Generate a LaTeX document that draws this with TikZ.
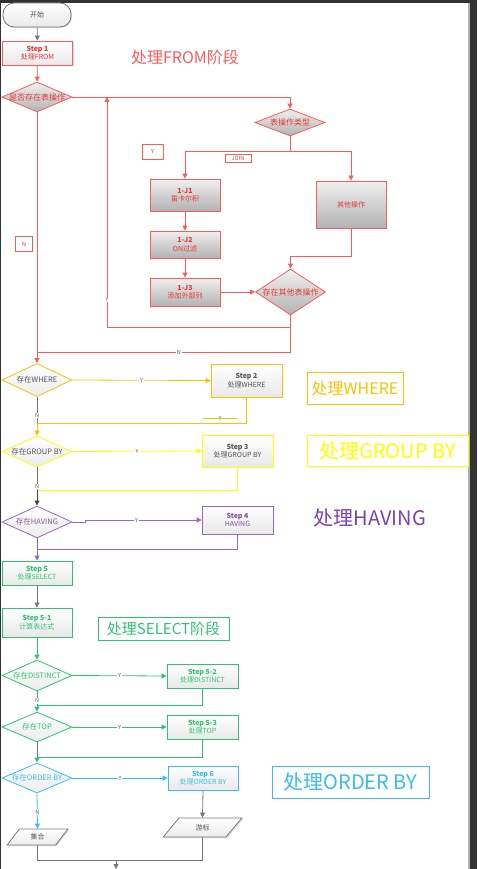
\documentclass[tikz,border=0pt]{standalone}
\usepackage{fontspec}
\setmainfont{Noto Sans CJK SC}
\usetikzlibrary{shapes.geometric,arrows.meta,shadows}

\definecolor{fromred}{HTML}{FF5A5A}
\definecolor{redtext}{HTML}{E53935}
\definecolor{whereorg}{HTML}{FFC000}
\definecolor{groupyel}{HTML}{FFFF00}
\definecolor{havpurp}{HTML}{8040B0}
\definecolor{selgreen}{HTML}{2EC46E}
\definecolor{ordcyan}{HTML}{38BDF0}
\definecolor{linegray}{HTML}{777777}
\definecolor{textgray}{HTML}{555555}

\newcommand{\stp}[1]{{\bfseries #1}}
\newcommand{\dz}[1]{\makebox[0pt]{#1}}

\tikzset{
  tip/.style={-{Triangle[length=5pt,width=5pt]}},
  shade/.style={drop shadow={shadow xshift=1.2pt, shadow yshift=-1.2pt, opacity=0.25}},
  stepbox/.style={rectangle, draw, line width=0.8pt, align=center, inner sep=1pt,
    top color=white, bottom color=gray!18, text=textgray, shade},
  redbox/.style={stepbox, draw=fromred, text=redtext, top color=gray!12, bottom color=gray!60},
  decide/.style={diamond, draw, line width=0.8pt, align=center, inner sep=0pt, aspect=2.2,
    minimum width=70, minimum height=31, top color=white, bottom color=gray!15, text=textgray,
    font=\fontsize{7.5}{9}\selectfont},
  reddecide/.style={decide, draw=fromred, text=redtext, top color=gray!12, bottom color=gray!60,
    font=\fontsize{8}{9}\selectfont},
  io/.style={trapezium, trapezium left angle=62, trapezium right angle=118, trapezium stretches=true,
    draw=linegray, line width=0.8pt, top color=white, bottom color=gray!15, text=textgray, shade},
  tagbox/.style={rectangle, draw=fromred, line width=0.8pt, fill=white, text=redtext, inner sep=1pt,
    font=\fontsize{5.5}{6}\selectfont},
  bigtag/.style={rectangle, line width=0.8pt, inner sep=2pt},
  lbl/.style={fill=white, inner sep=0.6pt, text=textgray, font=\fontsize{5.5}{6}\selectfont},
  rline/.style={draw=fromred, line width=0.8pt},
  oline/.style={draw=whereorg, line width=0.8pt},
  yline/.style={draw=groupyel, line width=0.8pt},
  pline/.style={draw=havpurp!80, line width=0.8pt},
  gnline/.style={draw=selgreen, line width=0.8pt},
  cline/.style={draw=ordcyan, line width=0.8pt},
  gline/.style={draw=linegray, line width=0.8pt}
}

\begin{document}
\begin{tikzpicture}[x=1pt, y=-1pt, font=\fontsize{7}{8.5}\selectfont]
\useasboundingbox (0,0) rectangle (477,869);

% window frame
\fill[black!80] (0,0) rectangle (477,3);
\fill[black!80] (0,0) rectangle (1.2,869);
\fill[gray!60] (467.5,3) rectangle (470,869);
\fill[black!80] (470,0) rectangle (477,869);

% --- FROM ---
\node[stepbox, draw=linegray, rounded corners=11, minimum width=68, minimum height=24] (start) at (37,15) {开始};
\node[stepbox, draw=fromred, text=redtext, minimum width=70, minimum height=24] (s1) at (37.5,53) {\stp{Step 1}\\处理FROM};
\node[text=fromred, font=\fontsize{16}{18}\selectfont] (labFrom) at (185,57) {处理FROM阶段};

\node[reddecide, minimum height=30] (dA) at (37,97) {\dz{是否存在表操作}};
\node[reddecide, minimum height=27] (dType) at (290,122.5) {\dz{表操作类型}};
\node[tagbox, minimum width=21, minimum height=15] (yBox) at (152.5,151.5) {Y};
\node[tagbox, minimum width=26, minimum height=8] (joinBox) at (238,158) {JOIN};
\node[tagbox, minimum width=17, minimum height=15] (nBox) at (24,244) {N};

\node[redbox, minimum width=70, minimum height=32] (j1) at (185,195) {\stp{1-J1}\\笛卡尔积};
\node[redbox, minimum width=70, minimum height=47] (other) at (351,204.5) {其他操作};
\node[redbox, minimum width=70, minimum height=27] (j2) at (185,244.5) {\stp{1-J2}\\ON过滤};
\node[redbox, minimum width=70, minimum height=28] (j3) at (185,292) {\stp{1-J3}\\添加外部列};
\node[reddecide, minimum height=46] (dMore) at (290.5,292) {\dz{存在其他表操作}};

\coordinate (loopY) at (107,327);
\coordinate (jN) at (37,352);

\draw[gline, tip] (start) -- (s1);
\draw[rline, tip] (s1) -- (dA);
\draw[rline, tip] (dA.east) -| (dType.north);
\draw[rline, tip] (dType.south) -- ++(0,15) -| (j1.north);
\draw[rline, tip] (dType.south) -- ++(0,15) -| (other.north);
\draw[rline, tip] (j1) -- (j2);
\draw[rline, tip] (j2) -- (j3);
\draw[rline, tip] (j3) -- (dMore);
\draw[rline, tip] (other.south) -- ++(0,28) -| (dMore.north);
\draw[rline, tip] (dMore.south) |- (loopY) -- (loopY |- dA.east) node[lbl, pos=0.12] {Y};
\draw[rline] (dMore.south) |- (jN) node[lbl, pos=0.72] {N};

% --- WHERE ---
\node[decide, draw=whereorg, minimum height=33] (dWhere) at (37,380) {\dz{存在WHERE}};
\node[stepbox, draw=whereorg, minimum width=71, minimum height=33] (s2) at (246.5,380.5) {\stp{Step 2}\\处理WHERE};
\node[bigtag, draw=whereorg, text=whereorg, minimum width=96, minimum height=32,
  font=\fontsize{16}{18}\selectfont] (labWhere) at (355,388) {处理WHERE};
\node[lbl, inner sep=0pt] (yW) at (220,418.5) {Y};
\coordinate (jW) at (37,423);

\draw[rline, tip] (dA.south) -- (dWhere.north);
\draw[oline, tip] (dWhere.east) -- (s2.west) node[lbl, midway] {Y};
\draw[oline] (s2.south) |- (jW);
\draw[oline] ([xshift=-17]yW.center) -- ([xshift=17]yW.center);
\draw[gline] (dWhere.south) -- (jW) node[lbl, pos=0.7] {N};

% --- GROUP BY ---
\node[decide, draw=groupyel] (dGroup) at (37,451.5) {\dz{存在GROUP BY}};
\node[stepbox, draw=groupyel, minimum width=71, minimum height=32] (s3) at (237.5,451) {\stp{Step 3}\\处理GROUP BY};
\node[bigtag, draw=groupyel, text=groupyel, minimum width=161, minimum height=31,
  font=\fontsize{20}{22}\selectfont] (labGroup) at (387.5,450.5) {处理GROUP BY};
\coordinate (jG) at (37,490);

\draw[oline, tip] (jW) -- (dGroup.north);
\draw[yline, tip] (dGroup.east) -- (s3.west) node[lbl, midway] {Y};
\draw[yline] (s3.south) |- (jG);
\draw[gline] (dGroup.south) -- (jG) node[lbl, pos=0.83] {N};

% --- HAVING ---
\node[decide, draw=havpurp!80, text=havpurp!70!gray, minimum height=32] (dHaving) at (37,522) {\dz{存在HAVING}};
\node[stepbox, draw=havpurp!80, text=havpurp!70!gray, minimum width=71, minimum height=28] (s4) at (237.5,520) {\stp{Step 4}\\HAVING};
\node[text=havpurp, font=\fontsize{20}{22}\selectfont] (labHaving) at (370,518) {处理HAVING};
\coordinate (jH) at (37,549);

\draw[draw=black!60!olive, line width=0.8pt, tip] (jG) -- (dHaving.north);
\draw[pline, tip] (dHaving.east) -- ++(13,0) |- (s4.west) node[lbl, pos=0.72] {Y};
\draw[pline] (s4.south) |- (jH);
\draw[gline] (dHaving.south) -- (jH);

% --- SELECT ---
\node[stepbox, draw=selgreen, text=selgreen, minimum width=70, minimum height=24] (s5) at (37,573) {\stp{Step 5}\\处理SELECT};
\node[stepbox, draw=selgreen, text=selgreen, minimum width=70, minimum height=29] (s51) at (37,622.5) {\stp{Step 5-1}\\计算表达式};
\node[bigtag, draw=selgreen, text=selgreen, minimum width=131, minimum height=23,
  font=\fontsize{15}{17}\selectfont] (labSelect) at (163.5,628.5) {处理SELECT阶段};
\node[decide, draw=selgreen, text=selgreen] (dDistinct) at (37,675.5) {\dz{存在DISTINCT}};
\node[stepbox, draw=selgreen, text=selgreen, minimum width=71, minimum height=24] (s52) at (202.5,676) {\stp{Step 5-2}\\处理DISTINCT};
\node[decide, draw=selgreen, text=selgreen, minimum height=30] (dTop) at (37,727) {\dz{存在TOP}};
\node[stepbox, draw=selgreen, text=selgreen, minimum width=71, minimum height=24] (s53) at (202.5,727) {\stp{Step 5-3}\\处理TOP};
\coordinate (jD) at (37,705);
\coordinate (jT) at (37,757);

\draw[pline, tip] (jH) -- (s5.north);
\draw[gline, tip] (s5) -- (s51);
\draw[gnline, tip] (s51) -- (dDistinct);
\draw[gnline, tip] (dDistinct.east) -- (s52.west) node[lbl, midway] {Y};
\draw[gnline] (s52.south) |- (jD);
\draw[gnline] (dDistinct.south) -- (jD) node[lbl, pos=0.7] {N};
\draw[gnline, tip] (jD) -- (dTop.north);
\draw[gnline, tip] (dTop.east) -- (s53.west) node[lbl, midway] {Y};
\draw[gnline] (s53.south) |- (jT);
\draw[gline] (dTop.south) -- (jT);

% --- ORDER BY ---
\node[decide, draw=ordcyan, text=ordcyan, minimum height=30] (dOrder) at (37,778) {\dz{存在ORDER BY}};
\node[stepbox, draw=ordcyan, text=ordcyan, minimum width=70, minimum height=24] (s6) at (203,778) {\stp{Step 6}\\处理ORDER BY};
\node[bigtag, draw=ordcyan, text=ordcyan, minimum width=157, minimum height=32,
  font=\fontsize{20}{22}\selectfont] (labOrder) at (350.5,782) {处理ORDER BY};
\node[io, minimum width=61, minimum height=16] (set) at (37.5,837) {集合};
\node[io, minimum width=79, minimum height=19] (cursor) at (202.5,827.5) {游标};
\coordinate (jEnd) at (116,860);
\coordinate (endTip) at (116,869);

\draw[gnline, tip] (jT) -- (dOrder.north);
\draw[cline, tip] (dOrder.east) -- (s6.west) node[lbl, midway] {Y};
\draw[cline, tip] (dOrder.south) -- (set.north) node[lbl, pos=0.53] {N};
\draw[gline, tip] (s6.south) -- (cursor.north);
\draw[gline] (set.south) |- (jEnd) -| (cursor.south);
\draw[gline, tip] (jEnd) -- (endTip);
\end{tikzpicture}
\end{document}
